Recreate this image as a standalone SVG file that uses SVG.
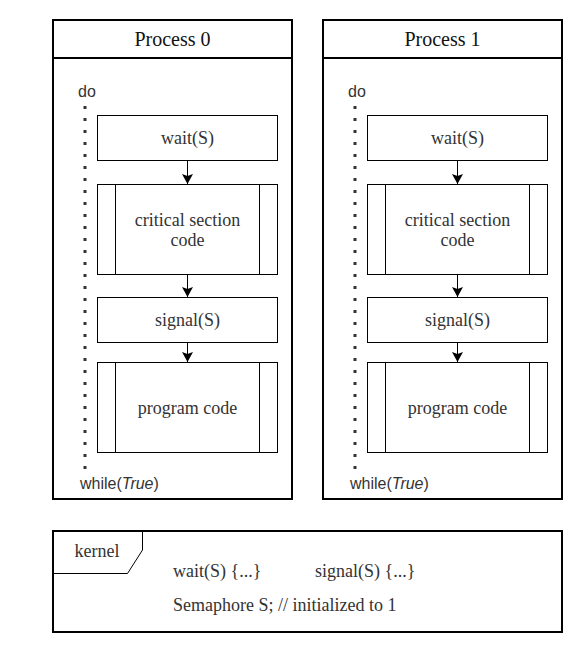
<svg xmlns="http://www.w3.org/2000/svg" width="582" height="648" viewBox="0 0 582 648">
<style>
.outer{fill:#fff;stroke:#000;stroke-width:2}
.box{fill:#fff;stroke:#000;stroke-width:1}
.ln{fill:none;stroke:#000;stroke-width:1}
.dot{fill:none;stroke:#333;stroke-width:3;stroke-dasharray:3 9}
.t{font-family:"Liberation Serif","Times New Roman",serif;font-size:18px;fill:#333;text-anchor:middle}
.tl{font-family:"Liberation Serif","Times New Roman",serif;font-size:18px;fill:#333}
.title{font-family:"Liberation Serif","Times New Roman",serif;font-size:20px;fill:#111;text-anchor:middle}
.s{font-family:"Liberation Sans",Arial,sans-serif;font-size:16px;fill:#333}
</style>
<defs>
<marker id="arr" markerUnits="userSpaceOnUse" markerWidth="12" markerHeight="12" refX="10" refY="5.5" orient="auto">
<path d="M0,0 L10,5.5 L0,11 L2,5.5 z" fill="#000"/>
</marker>
</defs>

<g id="process0">
<rect class="outer" x="53" y="20" width="239" height="479"/>
<line class="ln" x1="53" y1="58" x2="292" y2="58" style="stroke-width:2"/>
<text class="title" x="172.5" y="46">Process 0</text>
<text class="s" x="78" y="97">do</text>
<line class="dot" x1="85" y1="106" x2="85" y2="472"/>
<text class="s" x="80" y="489">while(<tspan font-style="italic">True</tspan>)</text>
</g>
<g id="p0-wait">
<rect class="box" x="97.5" y="115.5" width="180" height="45"/>
<text class="t" x="187.5" y="144">wait(S)</text>
</g>
<g id="p0-critical">
<rect class="box" x="97.5" y="184.5" width="180" height="90"/>
<line class="ln" x1="115.5" y1="184.5" x2="115.5" y2="274.5"/>
<line class="ln" x1="259.5" y1="184.5" x2="259.5" y2="274.5"/>
<text class="t" x="187.5" y="226">critical section</text>
<text class="t" x="187.5" y="246">code</text>
</g>
<g id="p0-signal">
<rect class="box" x="97.5" y="297.5" width="180" height="45"/>
<text class="t" x="187.5" y="326">signal(S)</text>
</g>
<g id="p0-program">
<rect class="box" x="97.5" y="362.5" width="180" height="90"/>
<line class="ln" x1="115.5" y1="362.5" x2="115.5" y2="452.5"/>
<line class="ln" x1="259.5" y1="362.5" x2="259.5" y2="452.5"/>
<text class="t" x="187.5" y="414">program code</text>
</g>

<g id="process1">
<rect class="outer" x="323" y="20" width="239" height="479"/>
<line class="ln" x1="323" y1="58" x2="562" y2="58" style="stroke-width:2"/>
<text class="title" x="442.5" y="46">Process 1</text>
<text class="s" x="348" y="97">do</text>
<line class="dot" x1="355" y1="106" x2="355" y2="472"/>
<text class="s" x="350" y="489">while(<tspan font-style="italic">True</tspan>)</text>
</g>
<g id="p1-wait">
<rect class="box" x="367.5" y="115.5" width="180" height="45"/>
<text class="t" x="457.5" y="144">wait(S)</text>
</g>
<g id="p1-critical">
<rect class="box" x="367.5" y="184.5" width="180" height="90"/>
<line class="ln" x1="385.5" y1="184.5" x2="385.5" y2="274.5"/>
<line class="ln" x1="529.5" y1="184.5" x2="529.5" y2="274.5"/>
<text class="t" x="457.5" y="226">critical section</text>
<text class="t" x="457.5" y="246">code</text>
</g>
<g id="p1-signal">
<rect class="box" x="367.5" y="297.5" width="180" height="45"/>
<text class="t" x="457.5" y="326">signal(S)</text>
</g>
<g id="p1-program">
<rect class="box" x="367.5" y="362.5" width="180" height="90"/>
<line class="ln" x1="385.5" y1="362.5" x2="385.5" y2="452.5"/>
<line class="ln" x1="529.5" y1="362.5" x2="529.5" y2="452.5"/>
<text class="t" x="457.5" y="414">program code</text>
</g>

<g id="connectors">
<line class="ln" x1="187.5" y1="160.5" x2="187.5" y2="184" marker-end="url(#arr)"/>
<line class="ln" x1="187.5" y1="274.5" x2="187.5" y2="297" marker-end="url(#arr)"/>
<line class="ln" x1="187.5" y1="342.5" x2="187.5" y2="362" marker-end="url(#arr)"/>
<line class="ln" x1="457.5" y1="160.5" x2="457.5" y2="184" marker-end="url(#arr)"/>
<line class="ln" x1="457.5" y1="274.5" x2="457.5" y2="297" marker-end="url(#arr)"/>
<line class="ln" x1="457.5" y1="342.5" x2="457.5" y2="362" marker-end="url(#arr)"/>
</g>

<g id="kernel">
<rect class="outer" x="53" y="531" width="509" height="101"/>
<path class="ln" d="M53,573.5 H127.5 L142.5,550 V531"/>
<text class="t" x="97" y="557">kernel</text>
<text class="tl" x="173" y="577">wait(S) {...}</text>
<text class="tl" x="315" y="577">signal(S) {...}</text>
<text class="tl" x="173" y="611">Semaphore S; // initialized to 1</text>
</g>
</svg>
